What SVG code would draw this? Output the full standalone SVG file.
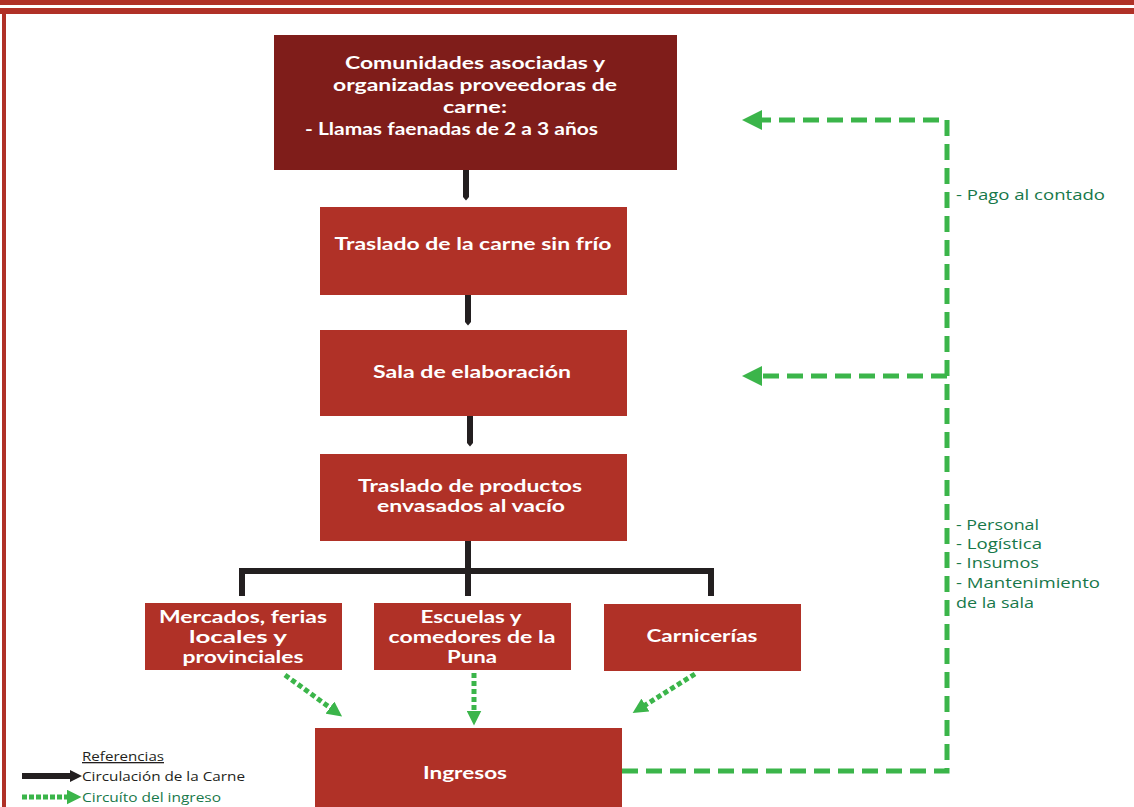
<svg xmlns="http://www.w3.org/2000/svg" width="1134" height="807" viewBox="0 0 1134 807">
<style>
.frame{fill:#b03127}
.dark{fill:#7f1d1a}
.box{fill:#b03127}
.t{font-family:Lato,"Open Sans","Liberation Sans",sans-serif;font-weight:bold;font-size:16.5px;fill:#fff;text-anchor:middle}
.g{font-family:"Open Sans","Liberation Sans",sans-serif;font-size:15px;fill:#17784a}
.flow{stroke:#231f20;stroke-width:6;fill:none}
.inc{stroke:#3bb54a;stroke-width:5;fill:none;stroke-dasharray:16 8}
.dot{stroke:#3bb54a;stroke-width:5;fill:none;stroke-dasharray:5 3}
.leg{font-family:"Open Sans","Liberation Sans",sans-serif;font-size:13px;fill:#231f20}
</style>
<defs>
<marker id="ga" markerWidth="4" markerHeight="4" refX="2" refY="2" orient="auto" markerUnits="strokeWidth"><path d="M0,0 L4,2 L0,4 Z" fill="#3bb54a"/></marker>
<marker id="gs" markerWidth="3" markerHeight="3" refX="1.5" refY="1.5" orient="auto" markerUnits="strokeWidth"><path d="M0,0 L3,1.5 L0,3 Z" fill="#3bb54a"/></marker>
<marker id="ba" markerWidth="2" markerHeight="2" refX="1" refY="1" orient="auto" markerUnits="strokeWidth"><path d="M0,0 L2,1 L0,2 Z" fill="#231f20"/></marker>
<marker id="bt" markerWidth="1" markerHeight="1" refX="0" refY="0.5" orient="auto" markerUnits="strokeWidth"><path d="M0,0 L0.6,0.5 L0,1 Z" fill="#231f20"/></marker>
</defs>
<rect width="1134" height="807" fill="#fff"/>
<g id="frame">
<rect class="frame" x="0" y="0" width="1134" height="5"/>
<rect class="frame" x="0" y="8" width="1134" height="6"/>
<rect class="frame" x="2" y="8" width="4" height="799"/>
</g>
<g id="connectors">
<line class="flow" x1="466" y1="170" x2="466" y2="197" marker-end="url(#bt)"/>
<line class="flow" x1="468" y1="295" x2="468" y2="322" marker-end="url(#bt)"/>
<line class="flow" x1="470" y1="416" x2="470" y2="443" marker-end="url(#bt)"/>
<path class="flow" d="M468,541 V596 M242,596 V571 H711 V596"/>
<path class="dot" d="M285,675 L336,712" marker-end="url(#gs)"/>
<path class="dot" d="M474,673 V718" marker-end="url(#gs)"/>
<path class="dot" d="M695,674 L639,709" marker-end="url(#gs)"/>
<path class="inc" d="M622,771 H947 V120 H752" marker-end="url(#ga)"/>
<path class="inc" d="M947,376 H752" marker-end="url(#ga)"/>
</g>
<g id="n1">
<rect class="dark" x="274" y="35" width="403" height="135"/>
<text class="t" x="475" y="69" textLength="260" lengthAdjust="spacingAndGlyphs">Comunidades asociadas y</text>
<text class="t" x="475" y="91" textLength="284" lengthAdjust="spacingAndGlyphs">organizadas proveedoras de</text>
<text class="t" x="475" y="113" textLength="64" lengthAdjust="spacingAndGlyphs">carne:</text>
<text class="t" x="305" y="135" style="text-anchor:start" textLength="293" lengthAdjust="spacingAndGlyphs">- Llamas faenadas de 2 a 3 años</text>
</g>
<g id="n2">
<rect class="box" x="320" y="207" width="307" height="88"/>
<text class="t" x="473" y="250" textLength="277" lengthAdjust="spacingAndGlyphs">Traslado de la carne sin frío</text>
</g>
<g id="n3">
<rect class="box" x="320" y="330" width="307" height="86"/>
<text class="t" x="472" y="378" textLength="198" lengthAdjust="spacingAndGlyphs">Sala de elaboración</text>
</g>
<g id="n4">
<rect class="box" x="320" y="454" width="307" height="87"/>
<text class="t" x="470" y="492" textLength="224" lengthAdjust="spacingAndGlyphs">Traslado de productos</text>
<text class="t" x="471" y="512" textLength="188" lengthAdjust="spacingAndGlyphs">envasados al vacío</text>
</g>
<g id="n5">
<rect class="box" x="145" y="603" width="197" height="67"/>
<text class="t" x="243" y="623" textLength="168" lengthAdjust="spacingAndGlyphs">Mercados, ferias</text>
<text class="t" x="238" y="643" textLength="98" lengthAdjust="spacingAndGlyphs">locales y</text>
<text class="t" x="243" y="663" textLength="121" lengthAdjust="spacingAndGlyphs">provinciales</text>
</g>
<g id="n6">
<rect class="box" x="374" y="603" width="197" height="67"/>
<text class="t" x="471" y="623" textLength="101" lengthAdjust="spacingAndGlyphs">Escuelas y</text>
<text class="t" x="472" y="643" textLength="167" lengthAdjust="spacingAndGlyphs">comedores de la</text>
<text class="t" x="472" y="663" textLength="50" lengthAdjust="spacingAndGlyphs">Puna</text>
</g>
<g id="n7">
<rect class="box" x="604" y="604" width="197" height="67"/>
<text class="t" x="702" y="642" textLength="111" lengthAdjust="spacingAndGlyphs">Carnicerías</text>
</g>
<g id="n8">
<rect class="box" x="315" y="728" width="307" height="79"/>
<text class="t" x="465" y="779" textLength="84" lengthAdjust="spacingAndGlyphs">Ingresos</text>
</g>
<g id="labels">
<text class="g" x="956" y="200" textLength="149" lengthAdjust="spacingAndGlyphs">- Pago al contado</text>
<text class="g" x="956" y="530" textLength="83" lengthAdjust="spacingAndGlyphs">- Personal</text>
<text class="g" x="956" y="549" textLength="86" lengthAdjust="spacingAndGlyphs">- Logística</text>
<text class="g" x="956" y="568" textLength="83" lengthAdjust="spacingAndGlyphs">- Insumos</text>
<text class="g" x="956" y="588" textLength="144" lengthAdjust="spacingAndGlyphs">- Mantenimiento</text>
<text class="g" x="956" y="608" textLength="78" lengthAdjust="spacingAndGlyphs">de la sala</text>
</g>
<g id="legend">
<text class="leg" x="82" y="761" text-decoration="underline" textLength="82" lengthAdjust="spacingAndGlyphs">Referencias</text>
<line class="flow" x1="22" y1="776" x2="76" y2="776" marker-end="url(#ba)"/>
<text class="leg" x="82" y="781" textLength="163" lengthAdjust="spacingAndGlyphs">Circulación de la Carne</text>
<line x1="22" y1="797" x2="74" y2="797" stroke="#3bb54a" stroke-width="5" stroke-dasharray="5 2" marker-end="url(#gs)"/>
<text class="leg" x="82" y="802" style="fill:#17784a" textLength="139" lengthAdjust="spacingAndGlyphs">Circuíto del ingreso</text>
</g>
</svg>
